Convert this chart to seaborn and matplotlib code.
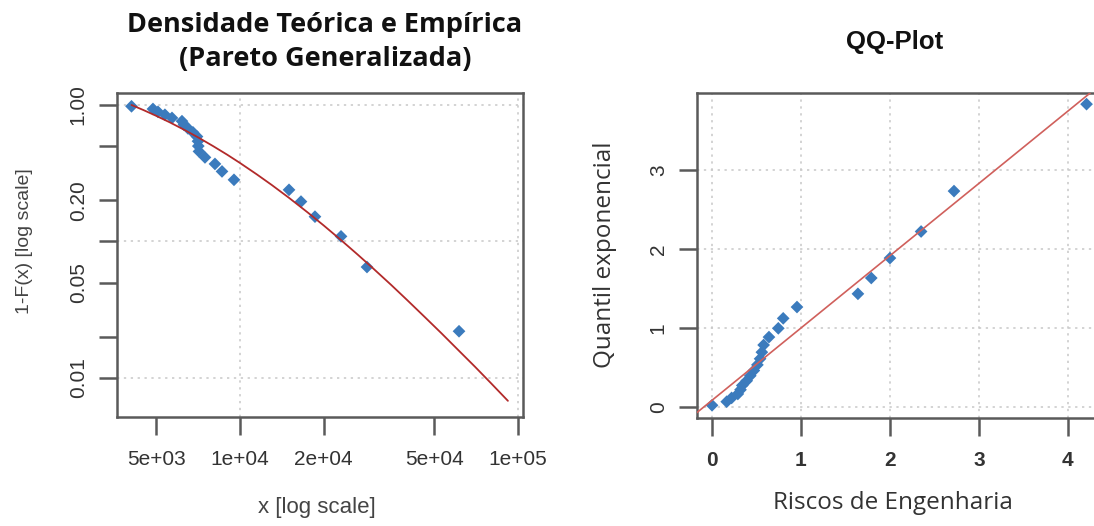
import numpy as np
import pandas as pd
import matplotlib
matplotlib.use("Agg")
import matplotlib.pyplot as plt
import matplotlib.ticker as mticker
import seaborn as sns

# Engineering-risk claims above the threshold (sorted), with empirical survival 1-F(x)
claims = [4072, 4864, 5070, 5370, 5694, 6185, 6288, 6500, 6775, 7004, 7062, 7080,
          7120, 7483, 8128, 8616, 9515, 15010, 16575, 18610, 23090, 28630, 61360]
survival = [0.978, 0.935, 0.891, 0.848, 0.804, 0.761, 0.717, 0.674, 0.630, 0.587,
            0.543, 0.500, 0.457, 0.413, 0.370, 0.326, 0.283, 0.239, 0.196, 0.152,
            0.109, 0.065, 0.022]

# Fitted generalized Pareto tail (theoretical 1-F(x))
gpd_x = [4072, 4500, 5000, 5600, 6300, 7100, 8000, 9000, 10000, 11500, 13000, 15000,
         17500, 20000, 23000, 26500, 30000, 35000, 40000, 46000, 53000, 61000, 70000,
         80000, 92000]
gpd_s = [1.0, 0.917, 0.832, 0.745, 0.658, 0.576, 0.500, 0.432, 0.376, 0.310, 0.2597,
         0.2090, 0.1635, 0.1311, 0.1031, 0.0802, 0.0640, 0.0480, 0.0371, 0.0282,
         0.0213, 0.0160, 0.0121, 0.00915, 0.0068]

# QQ plot: transformed risks vs exponential quantiles
qq_risk = [0.0, 0.165, 0.22, 0.29, 0.32, 0.34, 0.39, 0.43, 0.47, 0.51, 0.54, 0.56,
           0.58, 0.64, 0.745, 0.80, 0.955, 1.64, 1.79, 2.0, 2.35, 2.72, 4.21]
qq_expq = [0.022, 0.067, 0.115, 0.165, 0.218, 0.273, 0.332, 0.395, 0.461, 0.533,
           0.610, 0.693, 0.784, 0.884, 0.995, 1.121, 1.264, 1.431, 1.631, 1.883,
           2.219, 2.730, 3.829]
qq_line = {"intercept": 0.085, "slope": 0.914}

left_xticks = [5e3, 1e4, 2e4, 5e4, 1e5]
left_xlabels = ["5e+03", "1e+04", "2e+04", "5e+04", "1e+05"]
left_yticks = [1.0, 0.5, 0.2, 0.1, 0.05, 0.02, 0.01]
left_ylabels = ["1.00", "", "0.20", "", "0.05", "", "0.01"]

sns.set_theme(style="white")
plt.rcParams["font.family"] = ["Liberation Sans", "DejaVu Sans"]

W, H = 1094, 526
fig = plt.figure(figsize=(W / 100, H / 100), dpi=100)

def box(l, t, r, b):
    return [l / W, 1 - b / H, (r - l) / W, (b - t) / H]

ax1 = fig.add_axes(box(117, 93, 523, 417))
ax2 = fig.add_axes(box(697, 93, 1099, 418))

point_col = "#3b7bbd"
spine_col = "#5a5a5a"
grid_kw = dict(color="#c8c8c8", linestyle=(0, (1.5, 3)), linewidth=1.1)

# ---- left panel: empirical vs theoretical tail
df_emp = pd.DataFrame({"x": claims, "s": survival})
df_gpd = pd.DataFrame({"x": gpd_x, "s": gpd_s})
ax1.set_xscale("log")
ax1.set_yscale("log")
ax1.set_xlim(3611, 104240)
ax1.set_ylim(0.005178, 1.224)
for v in [1e4, 1e5]:
    ax1.axvline(v, zorder=0, **grid_kw)
for v in [1.0, 0.1, 0.01]:
    ax1.axhline(v, zorder=0, **grid_kw)
sns.scatterplot(data=df_emp, x="x", y="s", ax=ax1, marker="D", s=42,
                color=point_col, edgecolor="none", zorder=3)
sns.lineplot(data=df_gpd, x="x", y="s", ax=ax1, sort=False, color="#b22a2a",
             linewidth=1.3, zorder=4)
ax1.xaxis.set_major_locator(mticker.FixedLocator(left_xticks))
ax1.xaxis.set_major_formatter(mticker.FixedFormatter(left_xlabels))
ax1.xaxis.set_minor_locator(mticker.NullLocator())
ax1.yaxis.set_major_locator(mticker.FixedLocator(left_yticks))
ax1.yaxis.set_major_formatter(mticker.FixedFormatter(left_ylabels))
ax1.yaxis.set_minor_locator(mticker.NullLocator())
for lab in ax1.get_yticklabels():
    lab.set_rotation(90)
    lab.set_va("center")
ax1.set_xlabel("")
ax1.set_ylabel("")

# ---- right panel: QQ plot
df_qq = pd.DataFrame({"risk": qq_risk, "q": qq_expq})
ax2.set_xlim(-0.169, 4.35)
ax2.set_ylim(-0.139, 3.97)
for v in range(0, 5):
    ax2.axvline(v, zorder=0, **grid_kw)
for v in range(0, 4):
    ax2.axhline(v, zorder=0, **grid_kw)
sns.scatterplot(data=df_qq, x="risk", y="q", ax=ax2, marker="D", s=42,
                color=point_col, edgecolor="none", zorder=3)
ax2.axline((0, qq_line["intercept"]), slope=qq_line["slope"], color="#d0605c",
           linewidth=1.2, zorder=4)
ax2.set_xticks(range(0, 5))
ax2.set_yticks(range(0, 4))
ax2.set_xlabel("")
ax2.set_ylabel("")

for ax in (ax1, ax2):
    for sp in ax.spines.values():
        sp.set_color(spine_col)
        sp.set_linewidth(1.8)
    ax.tick_params(axis="both", which="major", direction="out", length=13,
                   width=1.8, color=spine_col, labelsize=15, labelcolor="#333333",
                   pad=8, bottom=True, left=True)
    ax.tick_params(axis="x", pad=11)

for lab in ax2.get_yticklabels():
    lab.set_rotation(90)
    lab.set_va("center")
for lab in ax2.get_xticklabels():
    lab.set_fontweight("bold")

# ---- titles and axis labels
fig.text(325 / W, 1 - 25 / H, "Densidade Teórica e Empírica", ha="center", va="center",
         fontsize=19.5, fontweight="bold", family=["Open Sans", "DejaVu Sans"], color="#111111")
fig.text(325 / W, 1 - 59 / H, "(Pareto Generalizada)", ha="center", va="center",
         fontsize=19.5, fontweight="bold", family=["Open Sans", "DejaVu Sans"], color="#111111")
fig.text(895 / W, 1 - 42 / H, "QQ-Plot", ha="center", va="center",
         fontsize=18.5, fontweight="bold", color="#111111")
fig.text(25 / W, 1 - 241 / H, "1-F(x) [log scale]", ha="center", va="center",
         rotation=90, fontsize=14, color="#444444")
fig.text(317 / W, 1 - 507 / H, "x [log scale]", ha="center", va="center",
         fontsize=16, color="#444444")
fig.text(605 / W, 1 - 255 / H, "Quantil exponencial", ha="center", va="center",
         rotation=90, fontsize=17.5, family=["Open Sans", "DejaVu Sans"], color="#333333")
fig.text(893 / W, 1 - 503 / H, "Riscos de Engenharia", ha="center", va="center",
         fontsize=17.5, family=["Open Sans", "DejaVu Sans"], color="#333333")

fig.savefig("out.png", dpi=100)
